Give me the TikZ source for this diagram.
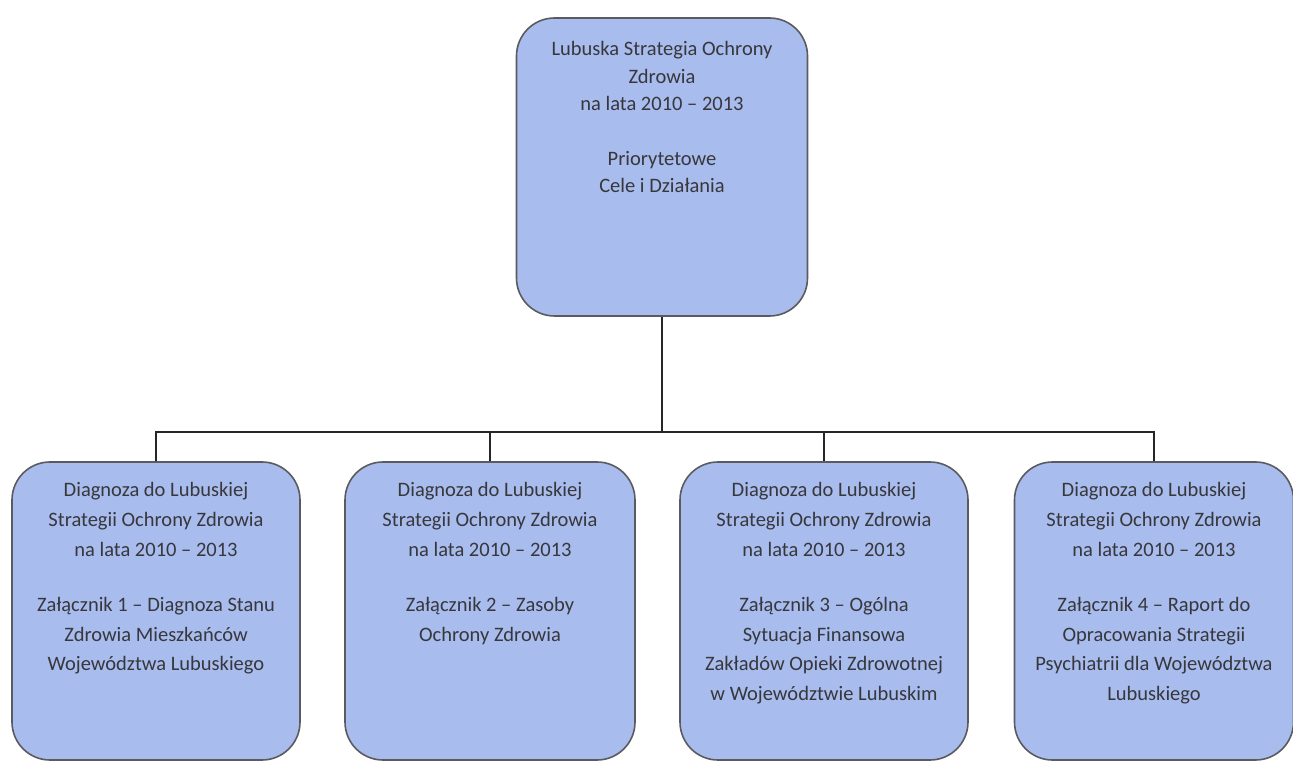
\documentclass[tikz,border=0pt]{standalone}
\usepackage{fontspec}
\setmainfont{Carlito}
\definecolor{boxfill}{RGB}{168,188,238}
\definecolor{boxline}{RGB}{90,90,95}
\definecolor{txt}{RGB}{55,55,60}
\begin{document}
\begin{tikzpicture}[x=1pt,y=1pt,
  box/.style={draw=boxline,line width=1.6pt,fill=boxfill,rounded corners=38pt,
    minimum height=298pt,inner sep=0pt},
  lbl/.style={anchor=north,align=center,text=txt,font=\fontsize{20.5}{29.8}\selectfont},
  conn/.style={draw=black!85,line width=2.4pt}]
\useasboundingbox (0,0) rectangle (1293,763);
\node[box,minimum width=291pt] (top) at (662,596) {};
\node[box,minimum width=288pt] (b1) at (156,152) {};
\node[box,minimum width=290pt] (b2) at (490,152) {};
\node[box,minimum width=288pt] (b3) at (824,152) {};
\node[box,minimum width=279pt] (b4) at (1154,152) {};
\node[lbl,font=\fontsize{20.5}{27.5}\selectfont] (t0) at ([yshift=-21pt]top.north) {Lubuska Strategia Ochrony\\Zdrowia\\na lata 2010 -- 2013\\[27pt]Priorytetowe\\Cele i Działania};
\node[lbl] (t1) at ([yshift=-18pt]b1.north) {Diagnoza do Lubuskiej\\Strategii Ochrony Zdrowia\\na lata 2010 -- 2013\\[25pt]Załącznik 1 -- Diagnoza Stanu\\Zdrowia Mieszkańców\\Województwa Lubuskiego};
\node[lbl] (t2) at ([yshift=-18pt]b2.north) {Diagnoza do Lubuskiej\\Strategii Ochrony Zdrowia\\na lata 2010 -- 2013\\[25pt]Załącznik 2 -- Zasoby\\Ochrony Zdrowia};
\node[lbl] (t3) at ([yshift=-18pt]b3.north) {Diagnoza do Lubuskiej\\Strategii Ochrony Zdrowia\\na lata 2010 -- 2013\\[25pt]Załącznik 3 -- Ogólna\\Sytuacja Finansowa\\Zakładów Opieki Zdrowotnej\\w Województwie Lubuskim};
\node[lbl] (t4) at ([yshift=-18pt]b4.north) {Diagnoza do Lubuskiej\\Strategii Ochrony Zdrowia\\na lata 2010 -- 2013\\[25pt]Załącznik 4 -- Raport do\\Opracowania Strategii\\Psychiatrii dla Województwa\\Lubuskiego};
\coordinate (bus) at (0,331);
\draw[conn] (top.south) -- (top.south |- bus);
\draw[conn] (b1.north) -- (b1.north |- bus) -- (b4.north |- bus) -- (b4.north);
\draw[conn] (b2.north) -- (b2.north |- bus);
\draw[conn] (b3.north) -- (b3.north |- bus);
\end{tikzpicture}
\end{document}
